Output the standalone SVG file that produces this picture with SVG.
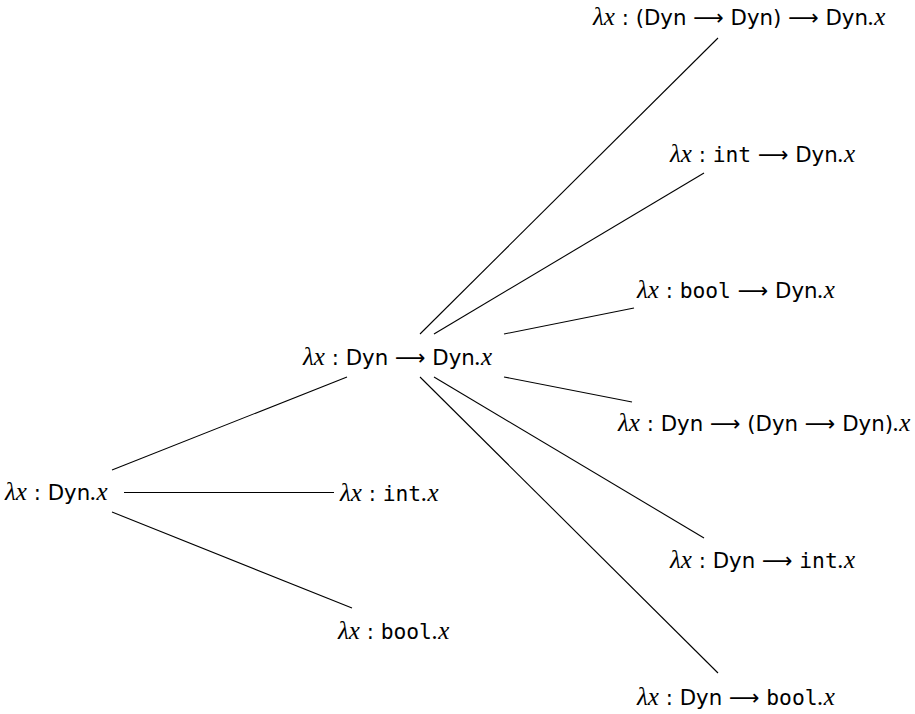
<svg xmlns="http://www.w3.org/2000/svg" width="915" height="714" viewBox="0 0 915 714">
<style>
text{font-family:"DejaVu Sans",sans-serif;font-size:21.3px;fill:#000}
.m{font-family:"Liberation Serif",serif;font-style:italic;font-size:25px}
.t{font-family:"DejaVu Sans Mono",monospace}
.a{font-family:"DejaVu Sans",sans-serif}
line{stroke:#000;stroke-width:1.1}
</style>
<rect width="915" height="714" fill="#fff"/>
<g id="connectors">
<line x1="112" y1="470" x2="347" y2="377"/>
<line x1="124" y1="492.5" x2="334" y2="492.5"/>
<line x1="112" y1="512" x2="352" y2="608"/>
<line x1="420" y1="334" x2="718" y2="38"/>
<line x1="434" y1="334" x2="704" y2="173"/>
<line x1="504" y1="334" x2="634" y2="308"/>
<line x1="504" y1="377" x2="632" y2="402"/>
<line x1="434" y1="377" x2="704" y2="538"/>
<line x1="420" y1="377" x2="718" y2="673"/>
</g>
<g id="n-dyn-x"><text x="5" y="500"><tspan class="m">λx</tspan> : Dyn<tspan class="m">.x</tspan></text></g>
<g id="n-int-x"><text x="340" y="501"><tspan class="m">λx</tspan> : <tspan class="t">int</tspan><tspan class="m">.x</tspan></text></g>
<g id="n-bool-x"><text x="338" y="639"><tspan class="m">λx</tspan> : <tspan class="t">bool</tspan><tspan class="m">.x</tspan></text></g>
<g id="n-dyn-dyn"><text x="303" y="365"><tspan class="m">λx</tspan> : Dyn <tspan class="a">⟶</tspan> Dyn<tspan class="m">.x</tspan></text></g>
<g id="n-dd-dyn"><text x="593" y="25"><tspan class="m">λx</tspan> : (Dyn <tspan class="a">⟶</tspan> Dyn) <tspan class="a">⟶</tspan> Dyn<tspan class="m">.x</tspan></text></g>
<g id="n-int-dyn"><text x="670" y="162"><tspan class="m">λx</tspan> : <tspan class="t">int</tspan> <tspan class="a">⟶</tspan> Dyn<tspan class="m">.x</tspan></text></g>
<g id="n-bool-dyn"><text x="637" y="298"><tspan class="m">λx</tspan> : <tspan class="t">bool</tspan> <tspan class="a">⟶</tspan> Dyn<tspan class="m">.x</tspan></text></g>
<g id="n-dyn-dd"><text x="618" y="431"><tspan class="m">λx</tspan> : Dyn <tspan class="a">⟶</tspan> (Dyn <tspan class="a">⟶</tspan> Dyn)<tspan class="m">.x</tspan></text></g>
<g id="n-dyn-int"><text x="670" y="568"><tspan class="m">λx</tspan> : Dyn <tspan class="a">⟶</tspan> <tspan class="t">int</tspan><tspan class="m">.x</tspan></text></g>
<g id="n-dyn-bool"><text x="637" y="705"><tspan class="m">λx</tspan> : Dyn <tspan class="a">⟶</tspan> <tspan class="t">bool</tspan><tspan class="m">.x</tspan></text></g>
</svg>
